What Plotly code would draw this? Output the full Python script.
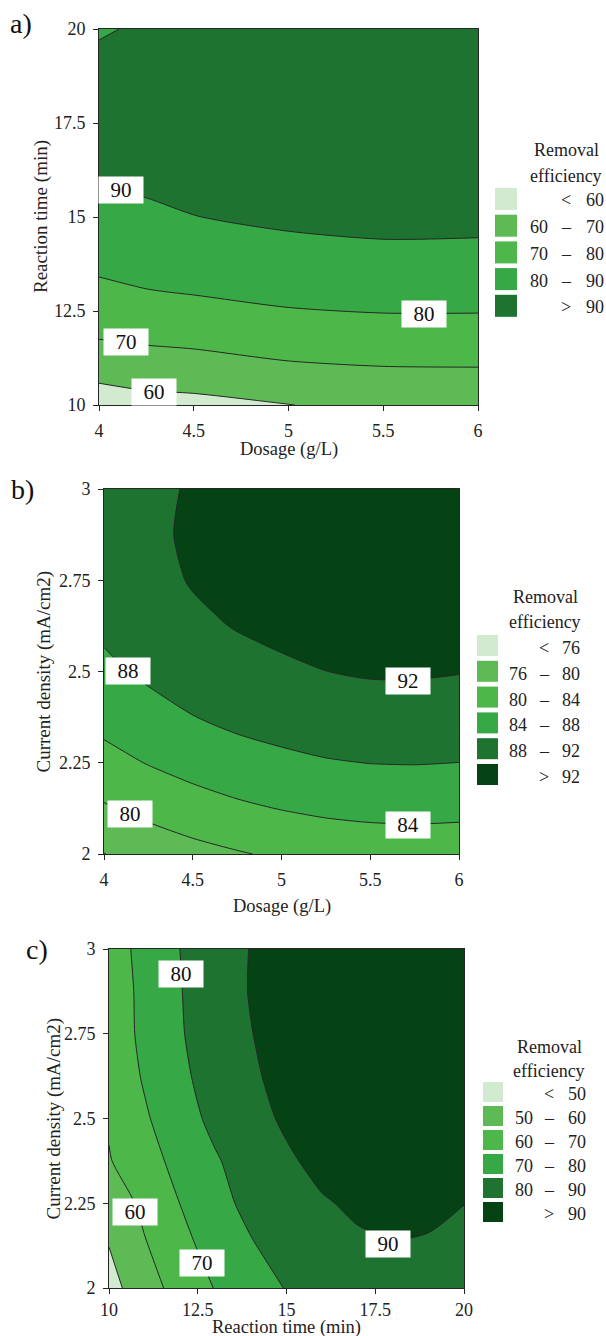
import plotly.graph_objects as go

W, H = 606, 1336

# ---------------- data ----------------
# Panel a: dosage (g/L) vs reaction time (min)
dosage_a = [4, 4.25, 4.5, 5, 5.5, 6]
time_a = [10, 11, 12, 13, 14, 15, 16, 17, 18, 19, 20]
eff_a = [
    [54.5, 56.6, 57.23, 59.92, 61.13, 61.42],
    [64.0, 65.48, 66.20, 68.70, 69.79, 69.95],
    [72.0, 73.13, 73.95, 76.25, 77.23, 77.28],
    [77.73, 79.54, 80.48, 82.56, 83.45, 83.40],
    [83.31, 84.70, 85.78, 87.62, 88.45, 88.33],
    [87.58, 88.63, 89.86, 91.45, 92.24, 92.05],
    [90.54, 91.32, 92.72, 94.04, 94.80, 94.57],
    [92.20, 92.77, 94.36, 95.39, 96.14, 95.89],
    [92.56, 92.98, 94.77, 95.51, 96.26, 96.01],
    [91.60, 91.95, 93.97, 94.38, 95.16, 94.93],
    [89.34, 90.90, 91.94, 92.01, 92.85, 92.65],
]

# Panel b: dosage (g/L) vs current density (mA/cm2)
dosage_b = [4, 4.25, 4.5, 4.75, 5, 5.25, 5.5, 5.75, 6]
density_b = [2, 2.125, 2.25, 2.375, 2.5, 2.625, 2.75, 2.875, 3]
eff_b = [
    [75.93, 77.49, 78.76, 79.71, 80.54, 81.18, 81.57, 81.70, 81.55],
    [79.60, 81.11, 82.35, 83.36, 84.13, 84.75, 85.09, 85.20, 85.07],
    [82.71, 84.17, 85.40, 86.43, 87.16, 87.74, 88.06, 88.13, 87.98],
    [85.26, 86.69, 87.91, 88.92, 89.60, 90.16, 90.46, 90.51, 90.36],
    [87.25, 88.64, 89.89, 90.84, 91.47, 91.98, 92.31, 92.32, 92.12],
    [88.67, 90.05, 91.33, 92.17, 92.76, 93.26, 93.59, 93.57, 93.30],
    [89.54, 90.90, 92.23, 92.92, 93.47, 93.95, 94.32, 94.25, 93.90],
    [89.84, 91.20, 92.60, 93.10, 93.61, 94.06, 94.49, 94.38, 93.91],
    [89.58, 90.95, 92.43, 92.69, 93.17, 93.60, 94.10, 93.94, 93.34],
]

# Panel c: reaction time (min) vs current density (mA/cm2)
time_c = [10, 11, 12, 13, 14, 15, 16, 17, 18, 19, 20]
density_c = [2, 2.125, 2.25, 2.375, 2.5, 2.625, 2.75, 2.875, 3]
eff_c = [
    [46.56, 55.71, 63.67, 70.43, 76.01, 80.39, 83.58, 85.58, 86.39, 86.01, 84.44],
    [50.12, 59.19, 67.07, 73.78, 79.32, 83.67, 86.85, 88.85, 89.68, 89.32, 87.79],
    [53.54, 62.40, 70.09, 77.10, 82.40, 86.24, 89.31, 91.21, 91.97, 91.56, 90.10],
    [59.40, 66.40, 72.80, 79.15, 84.29, 88.87, 92.15, 94.12, 94.77, 94.12, 92.15],
    [61.00, 68.78, 76.14, 82.33, 87.36, 91.21, 93.90, 95.42, 95.77, 94.95, 92.96],
    [62.74, 70.99, 78.09, 84.05, 88.86, 92.52, 95.04, 96.42, 96.65, 95.73, 93.67],
    [64.09, 72.24, 79.24, 85.09, 89.79, 93.35, 95.76, 97.02, 97.14, 96.11, 93.93],
    [64.60, 72.35, 79.60, 85.64, 90.47, 94.09, 96.51, 97.72, 97.72, 96.51, 94.09],
    [65.08, 73.11, 80.02, 85.73, 90.32, 93.76, 96.06, 97.21, 97.21, 96.06, 93.76],
]

levels_a = [60, 70, 80, 90]
levels_b = [76, 80, 84, 88, 92]
levels_c = [50, 60, 70, 80, 90]

ticks_a_x = [4, 4.5, 5, 5.5, 6]
ticks_a_y = [10, 12.5, 15, 17.5, 20]
ticks_b_x = [4, 4.5, 5, 5.5, 6]
ticks_b_y = [2, 2.25, 2.5, 2.75, 3]
ticks_c_x = [10, 12.5, 15, 17.5, 20]
ticks_c_y = [2, 2.25, 2.5, 2.75, 3]

# contour label texts and where they sit (data coords)
labels_a = [("90", 4.116, 15.72), ("80", 5.715, 12.41), ("70", 4.142, 11.68), ("60", 4.29, 10.35)]
labels_b = [("88", 4.135, 2.501), ("80", 4.146, 2.110), ("92", 5.713, 2.474), ("84", 5.713, 2.079)]
labels_c = [("80", 12.03, 2.925), ("60", 10.73, 2.224), ("70", 12.62, 2.074), ("90", 17.86, 2.13)]

# ---------------- styles ----------------
FONT = "Liberation Serif, Times New Roman, serif"
TXT = "#222222"
LINE = "#262626"
C_LIGHT = "#D1EAD0"
C_G1 = "#5DBA55"
C_G2 = "#4DB74A"
C_G3 = "#36A846"
C_G4 = "#1E7331"
C_G5 = "#054315"

colors_a = [C_LIGHT, C_G1, C_G2, C_G3, C_G4]
colors_b = [C_LIGHT, C_G1, C_G2, C_G3, C_G4, C_G5]
colors_c = [C_LIGHT, C_G1, C_G2, C_G3, C_G4, C_G5]


def px(x):
    return x / W


def py(y):
    return 1 - y / H


def fmt(v):
    return "%g" % v


panels = [
    dict(x=dosage_a, y=time_a, z=eff_a, levels=levels_a, colors=colors_a,
         box=(99, 29, 478, 405), xr=[4, 6], yr=[10, 20], xt=ticks_a_x, yt=ticks_a_y,
         xtitle="Dosage (g/L)", ytitle="Reaction time (min)", xstand=4,
         xtitle_y=450, ytitle_x=41, letter="a)", letter_pos=(8, 23),
         labels=labels_a,
         leg_title=(566, 150, 176), leg_sw=(495, 188, 22, 26.7),
         leg_cols=(539, 566, 595), leg_dy=1.5),
    dict(x=dosage_b, y=density_b, z=eff_b, levels=levels_b, colors=colors_b,
         box=(104, 489, 459, 854), xr=[4, 6], yr=[2, 3], xt=ticks_b_x, yt=ticks_b_y,
         xtitle="Dosage (g/L)", ytitle="Current density (mA/cm2)", xstand=4,
         xtitle_y=906, ytitle_x=43, letter="b)", letter_pos=(9, 490),
         labels=labels_b,
         leg_title=(545, 597, 622), leg_sw=(477, 635, 21, 25.8),
         leg_cols=(518, 544, 571), leg_dy=2.5),
    dict(x=time_c, y=density_c, z=eff_c, levels=levels_c, colors=colors_c,
         box=(109, 949, 464, 1288), xr=[10, 20], yr=[2, 3], xt=ticks_c_x, yt=ticks_c_y,
         xtitle="Reaction time (min)", ytitle="Current density (mA/cm2)", xstand=0,
         xtitle_y=1327.5, ytitle_x=53, letter="c)", letter_pos=(24, 949),
         labels=labels_c,
         leg_title=(549, 1047, 1071), leg_sw=(483, 1082, 20, 24),
         leg_cols=(524, 549, 577), leg_dy=1.5),
]

fig = go.Figure()
annotations = []
shapes = []
layout_axes = {}

for i, p in enumerate(panels, start=1):
    sfx = "" if i == 1 else str(i)
    xa, ya = "x" + sfx, "y" + sfx
    lv = p["levels"]
    step = lv[1] - lv[0]
    n = len(p["colors"]) - 1
    cscale = [[k / n, c] for k, c in enumerate(p["colors"])]
    fig.add_trace(go.Contour(
        x=p["x"], y=p["y"], z=p["z"], xaxis=xa, yaxis=ya,
        autocontour=False,
        contours=dict(start=lv[0], end=lv[-1], size=step, coloring="fill",
                      showlines=True, showlabels=False),
        line=dict(color=LINE, width=1, smoothing=0.7),
        colorscale=cscale, showscale=False, hoverinfo="skip",
    ))
    x0, y0, x1, y1 = p["box"]
    common = dict(showgrid=False, zeroline=False, showline=True, linecolor=LINE,
                  linewidth=1, mirror=True, ticks="outside", ticklen=5,
                  tickcolor=LINE, tickwidth=1, automargin=False,
                  tickfont=dict(family=FONT, size=18, color=TXT))
    layout_axes["xaxis" + sfx] = dict(
        common, domain=[px(x0), px(x1)], range=p["xr"], anchor=ya,
        tickvals=p["xt"], ticktext=[fmt(v) for v in p["xt"]],
        ticklabelstandoff=p["xstand"])
    layout_axes["yaxis" + sfx] = dict(
        common, domain=[py(y1), py(y0)], range=p["yr"], anchor=xa,
        tickvals=p["yt"], ticktext=[fmt(v) for v in p["yt"]], ticklabelstandoff=4)

    # axis titles
    annotations.append(dict(text=p["xtitle"], xref="paper", yref="paper",
                            x=px((x0 + x1) / 2), y=py(p["xtitle_y"]),
                            xanchor="center", yanchor="middle", showarrow=False,
                            borderpad=0,
                            font=dict(family=FONT, size=18.5, color=TXT)))
    annotations.append(dict(text=p["ytitle"], xref="paper", yref="paper",
                            x=px(p["ytitle_x"]), y=py((y0 + y1) / 2), textangle=-90,
                            xanchor="center", yanchor="middle", showarrow=False,
                            font=dict(family=FONT, size=19, color=TXT)))
    # panel letter
    lx, ly = p["letter_pos"]
    annotations.append(dict(text=p["letter"], xref="paper", yref="paper",
                            x=px(lx), y=py(ly), xanchor="left", yanchor="middle",
                            showarrow=False, font=dict(family=FONT, size=28, color="#111")))
    # contour labels
    for t, lx_, ly_ in p["labels"]:
        annotations.append(dict(text=t, xref=xa, yref=ya, x=lx_, y=ly_,
                                showarrow=False, bgcolor="white", width=42, height=24,
                                xanchor="center", yanchor="middle",
                                font=dict(family=FONT, size=21, color="#111")))
    # legend
    tx, t1, t2 = p["leg_title"]
    for txt, yy in (("Removal", t1), ("efficiency", t2)):
        annotations.append(dict(text=txt, xref="paper", yref="paper", x=px(tx), y=py(yy),
                                xanchor="center", yanchor="middle", showarrow=False,
                                font=dict(family=FONT, size=18, color=TXT)))
    sx, sy, ss, sd = p["leg_sw"]
    cl, cm, cr = p["leg_cols"]
    nlev = len(lv)
    for k, col in enumerate(p["colors"]):
        top = sy + k * sd
        shapes.append(dict(type="rect", xref="paper", yref="paper",
                           x0=px(sx), x1=px(sx + ss), y0=py(top + ss), y1=py(top),
                           fillcolor=col, line=dict(width=0), layer="above"))
        cy = top + ss / 2 + p["leg_dy"]
        if k == 0:
            parts = [("<", cm), (fmt(lv[0]), cr)]
        elif k == nlev:
            parts = [(">", cm), (fmt(lv[-1]), cr)]
        else:
            parts = [(fmt(lv[k - 1]), cl), ("–", cm), (fmt(lv[k]), cr)]
        for txt, xx in parts:
            annotations.append(dict(text=txt, xref="paper", yref="paper", x=px(xx), y=py(cy),
                                    xanchor="center", yanchor="middle", showarrow=False,
                                    font=dict(family=FONT, size=18, color=TXT)))

fig.update_layout(
    width=W, height=H, autosize=False,
    margin=dict(l=0, r=0, t=0, b=0, pad=0, autoexpand=False),
    paper_bgcolor="white", plot_bgcolor="white", showlegend=False,
    annotations=annotations, shapes=shapes, **layout_axes,
)

fig.write_html(
    "out.html",
    config={"responsive": False, "displayModeBar": False},
    post_script="document.body.style.margin='0px';document.body.style.padding='0px';",
)
